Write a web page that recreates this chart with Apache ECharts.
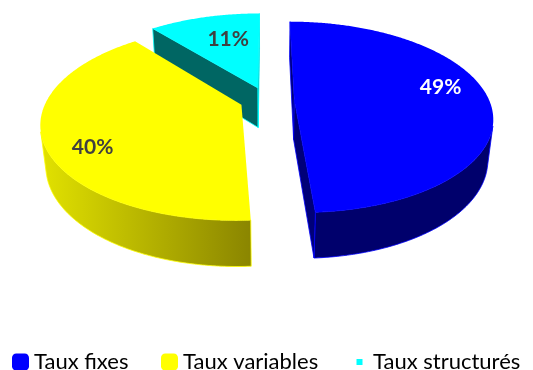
<!DOCTYPE html>
<html>
<head>
<meta charset="utf-8">
<script src="https://cdn.jsdelivr.net/npm/echarts@6/dist/echarts.min.js"></script>
<style>
  html, body { margin: 0; padding: 0; background: #ffffff; }
  #chart { width: 533px; height: 370px; }
</style>
</head>
<body>
<div id="chart"></div>
<script>
// Répartition de la dette par type de taux (en %)
const categories = ['Taux fixes', 'Taux variables', 'Taux structurés'];
const shares = [49, 40, 11];

// Styles of each slice
const topColors = ['#0000ff', '#ffff00', '#00ffff'];
const sideFills = [
  '#00006c',
  { type: 'linear', x: 0, y: 0, x2: 1, y2: 0, colorStops: [
    { offset: 0, color: '#e2e200' }, { offset: 1, color: '#8a8500' } ] },
  '#006663'
];
const radialFills = ['#000078', '#9a9600', '#006663'];
const labelColors = ['#ffffff', '#404040', '#404040'];
const labelShift = [[7, -10.5], [-9, 16.5], [10.5, 4.5]];
const seriesZ = [3, 2, 1];   // the slice pushed to the back is painted first

// 3D view of the pie: tilt, camera distance, focal length (px), centre, explosion, thickness
const VIEW = {
  tilt: 28.3 * Math.PI / 180,
  dist: 4.77,
  focal: 929,
  cx: 0.501,
  cy: 0.27,
  explode: 0.14,
  depth: 0.24
};

function makeProjector(W, H) {
  const s = Math.sin(VIEW.tilt), c = Math.cos(VIEW.tilt);
  const k = W / 533;
  const x0 = VIEW.cx * W, y0 = VIEW.cy * H;
  return function (x, y, z) {
    const d = VIEW.dist + z * c - y * s;
    const up = y * c + z * s;
    return [x0 + VIEW.focal * k * x / d, y0 - VIEW.focal * k * up / d];
  };
}

function renderSlice(idx) {
  return function (params, api) {
    const P = makeProjector(api.getWidth(), api.getHeight());
    const s = Math.sin(VIEW.tilt), c = Math.cos(VIEW.tilt);
    const camZ = -VIEW.dist * c;
    const total = shares.reduce((a, b) => a + b, 0);
    let before = 0;
    for (let k = 0; k < idx; k++) before += shares[k];
    const value = api.value(0);
    // angles run clockwise from the back of the pie
    const a1 = 2 * Math.PI * before / total;
    const a2 = 2 * Math.PI * (before + value) / total;
    const mid = (a1 + a2) / 2;
    const ox = VIEW.explode * Math.sin(mid), oz = VIEW.explode * Math.cos(mid);
    const h = VIEW.depth;
    const rim = (a, y) => P(ox + Math.sin(a), y, oz + Math.cos(a));
    const hub = y => P(ox, y, oz);
    const facesCamera = (nx, nz, px, pz) => px * nx + (pz - camZ) * nz < 0;
    const n = Math.max(8, Math.ceil((a2 - a1) / (Math.PI / 360)));
    const children = [];

    // outer curved wall, front-facing runs only
    let run = [];
    const flush = () => {
      if (run.length > 1) {
        const pts = run.map(a => rim(a, 0)).concat(run.slice().reverse().map(a => rim(a, -h)));
        children.push({ type: 'polygon', z2: 1, shape: { points: pts },
          style: { fill: sideFills[idx], stroke: topColors[idx], lineWidth: 0.8 } });
      }
      run = [];
    };
    for (let i = 0; i <= n; i++) {
      const a = a1 + (a2 - a1) * i / n;
      const nx = Math.sin(a), nz = Math.cos(a);
      if (facesCamera(nx, nz, ox + nx, oz + nz)) run.push(a); else flush();
    }
    flush();

    // flat walls along the two radii
    [[a1, -1], [a2, 1]].forEach(([a, sgn]) => {
      const nx = sgn * Math.cos(a), nz = -sgn * Math.sin(a);
      if (facesCamera(nx, nz, ox + 0.5 * Math.sin(a), oz + 0.5 * Math.cos(a))) {
        children.push({ type: 'polygon', z2: 2,
          shape: { points: [hub(0), rim(a, 0), rim(a, -h), hub(-h)] },
          style: { fill: radialFills[idx], stroke: topColors[idx], lineWidth: 0.8 } });
      }
    });

    // top face
    const top = [hub(0)];
    for (let i = 0; i <= n; i++) top.push(rim(a1 + (a2 - a1) * i / n, 0));
    children.push({ type: 'polygon', z2: 3, shape: { points: top },
      style: { fill: topColors[idx] } });

    // percentage label
    const lp = P(ox + 0.72 * Math.sin(mid), 0, oz + 0.72 * Math.cos(mid));
    children.push({
      type: 'text', z2: 4,
      x: lp[0] + labelShift[idx][0],
      y: lp[1] + labelShift[idx][1],
      style: {
        text: Math.round(100 * value / total) + '%',
        fill: labelColors[idx],
        font: 'bold 21px Lato',
        align: 'center',
        verticalAlign: 'middle'
      }
    });
    return { type: 'group', children: children };
  };
}

const legendText = { fontFamily: 'Lato', fontSize: 22, color: '#000000' };
const legendLefts = [12, 161, 351];
const legendIcons = ['roundRect', 'roundRect', 'path://M0,0M17,17M5.5,5.5h6v6h-6z'];

const chart = echarts.init(document.getElementById('chart'), null, { renderer: 'canvas' });
chart.setOption({
  backgroundColor: '#ffffff',
  animation: false,
  legend: categories.map((name, i) => ({
    data: [{ name: name, icon: legendIcons[i] }],
    left: legendLefts[i],
    top: 351,
    itemWidth: 17,
    itemHeight: 17,
    padding: 0,
    selectedMode: false,
    textStyle: legendText
  })),
  series: categories.map((name, i) => ({
    type: 'custom',
    name: name,
    coordinateSystem: 'none',
    silent: true,
    z: seriesZ[i],
    itemStyle: { color: topColors[i] },
    data: [[shares[i]]],
    renderItem: renderSlice(i)
  }))
});
</script>
</body>
</html>
